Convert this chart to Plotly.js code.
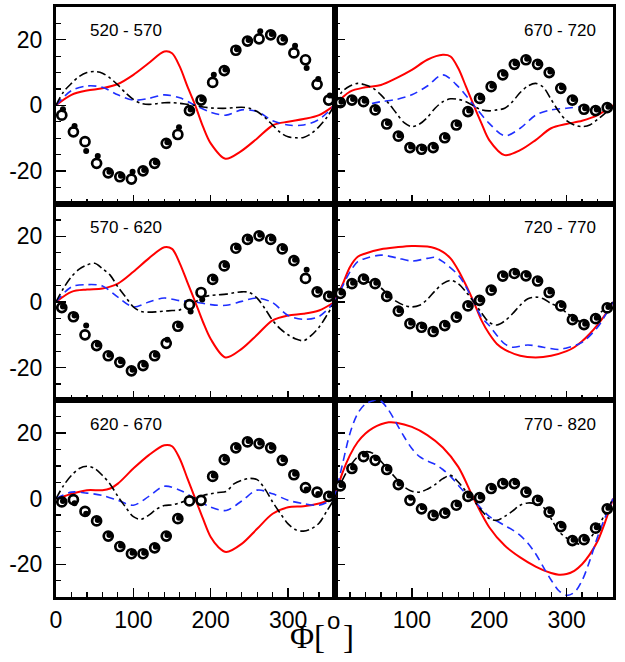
<!DOCTYPE html>
<html>
<head>
<meta charset="utf-8">
<script src="https://cdn.plot.ly/plotly-3.0.1.min.js"></script>
<style>html,body{margin:0;padding:0;background:#fff;}#chart{width:625px;height:662px;}</style>
</head>
<body>
<div id="chart"></div>
<script>
// ---- data ----
const panelLabels = ['520 - 570','670 - 720','570 - 620','720 - 770','620 - 670','770 - 820'];
const xTickVals = [0,100,200,300];
const xTickTextLeft = ['0','100','200','300'];
const xTickTextRight = [' ','100','200','300'];
const yTickVals = [-20,0,20];
const yTickText = ['-20','0','20'];
const titleParts = ['Φ[', 'o', ']'];

const phiPts  = [7.5,22.5,37.5,52.5,67.5,82.5,97.5,112.5,127.5,142.5,157.5,172.5,187.5,202.5,217.5,232.5,247.5,262.5,277.5,292.5,307.5,322.5,337.5,352.5];
const phiPtsF = [9,24,39,54,69,84,99,114,129,144,159,174,189,204,219,234,249,264,279,294,309,324,339,354];
const phi10 = [0,10,20,30,40,50,60,70,80,90,100,110,120,130,140,150,160,170,180,190,200,210,220,230,240,250,260,270,280,290,300,310,320,330,340,350,360];

// Panel 1: 520 - 570
const p1Open   = [-3.0,-8.1,-11.1,-17.7,-20.6,-21.8,-22.5,-20.0,-17.7,-11.6,-8.9,-1.6,1.6,7.0,10.6,16.8,19.6,20.3,21.5,20.0,16.0,13.9,6.4,1.6];
const p1Filled = [-1.2,-6.3,-13.9,-15.5,-20.3,-21.5,-20.3,-19.7,-17.4,-11.3,-6.7,-1.3,1.9,9.3,10.9,17.1,19.9,22.6,21.8,20.3,18.2,11.4,8.0,3.0];
const p1RedPhi = [0,20,40,60,80,100,120,140,150,160,170,180,190,200,219,238,260,281,300,320,340,360];
const p1Red    = [0,3.2,4.5,5.2,6.5,9.3,12.9,16.4,15.9,11.8,5.7,0,-6.5,-11.6,-16.3,-14.2,-10.1,-6.0,-5.0,-4.2,-3.0,0];
const p1BluePhi = [0,20,40,60,80,100,120,140,160,180,200,220,240,260,280,300,320,340,360];
const p1Blue    = [0,4.5,5.9,5.5,3.2,1.6,2.1,3.2,2.3,0,-2.1,-3.0,-1.4,-1.9,-4.7,-6.0,-6.0,-4.3,0];
const p1Black = [0,4.2,6.7,8.8,10.0,10.3,9.8,8.3,6.2,3.8,1.8,0.6,0.3,0.5,0.8,0.8,0.6,0.3,0,-0.5,-0.8,-0.9,-0.9,-0.7,-0.6,-0.9,-1.9,-3.7,-6.0,-8.3,-9.6,-9.9,-9.8,-8.6,-6.5,-3.7,0];

// Panel 2: 670 - 720
const p2Open   = [0.8,1.6,1.1,-1.4,-5.7,-9.4,-12.9,-13.4,-12.9,-9.9,-6.0,-1.9,2.1,5.7,9.3,12.5,13.9,12.5,10.0,5.2,1.6,-1.2,-1.6,-0.7];
const p2Filled = [1.1,1.9,1.4,-1.1,-5.4,-9.1,-12.6,-13.1,-12.6,-9.6,-5.7,-1.6,2.4,6.0,9.6,12.8,14.2,12.8,10.3,5.5,1.9,-0.9,-1.3,-0.4];
const p2RedPhi = [0,20,40,60,80,100,120,140,150,160,170,180,190,200,220,240,260,280,300,320,340,360];
const p2Red    = [0,4.2,5.5,6.2,8.3,10.8,13.9,15.4,14.9,11.3,5.7,0,-5.5,-10.6,-15.2,-13.7,-10.6,-7.0,-5.7,-4.7,-3.0,0];
const p2BluePhi = [0,20,40,60,80,100,120,140,160,180,200,220,240,260,280,300,320,340,360];
const p2Blue    = [0,1.6,0.4,1.1,1.8,3.2,5.9,9.3,5.7,0,-5.5,-9.3,-7.0,-3.0,-1.4,-0.9,-0.5,-1.2,0];
const p2Black = [0,4.2,5.9,6.7,6.2,5.2,3.2,0.6,-2.4,-5.3,-6.5,-5.7,-3.7,-0.9,1.1,2.0,1.8,1.1,-0.2,-1.4,-1.7,-1.4,-0.9,1.1,3.9,5.9,6.7,5.5,1.8,-1.9,-4.7,-6.0,-6.5,-6.0,-4.3,-2.4,0];

// Panel 3: 570 - 620
const p3Open   = [-1.7,-4.5,-10.0,-13.3,-16.4,-18.4,-21.0,-19.4,-16.4,-12.6,-7.4,-0.8,2.9,6.9,11.0,16.4,19.1,20.2,19.1,16.2,12.6,7.2,3.1,1.7];
const p3Filled = [-1.4,-4.1,-7.2,-13.0,-16.1,-18.1,-20.7,-19.1,-16.1,-11.5,-7.1,-2.9,0.8,7.2,11.3,16.7,19.4,20.5,19.4,16.5,12.9,9.8,3.4,2.0];
const p3RedPhi = [0,20,40,60,80,100,120,140,150,160,170,180,190,200,219,240,260,280,300,320,340,360];
const p3Red    = [0,3.1,3.8,4.1,5.6,9.2,13.3,16.7,16.2,11.8,5.9,0,-6.1,-11.3,-16.9,-14.3,-10.0,-5.6,-4.1,-3.6,-2.6,0];
const p3BluePhi = [0,20,40,60,80,100,120,140,160,180,200,220,240,260,280,300,320,340,360];
const p3Blue    = [0,4.6,5.3,4.9,1.5,-1.5,0,1.2,0.4,0,-0.8,-1.0,0.2,1.2,-0.2,-4.1,-5.3,-4.4,0];
const p3Black = [0,4.3,7.7,10.0,11.3,11.8,10.2,8.2,4.6,1.5,-1.5,-2.9,-3.1,-3.0,-2.8,-2.6,-2.4,-1.0,0,1.5,2.0,2.2,2.4,2.8,3.1,2.9,1.2,-2.0,-5.6,-8.2,-10.0,-11.3,-11.8,-10.2,-7.7,-4.1,0];

// Panel 4: 720 - 770
const p4Open   = [2.6,5.6,7.0,5.6,1.7,-2.8,-6.6,-7.7,-9.0,-7.2,-4.6,-1.2,0.5,3.6,7.9,8.7,8.0,6.4,2.9,-1.2,-5.4,-6.9,-5.1,-1.8];
const p4Filled = [2.9,5.9,7.3,5.9,2.0,-2.5,-6.3,-7.4,-8.7,-6.9,-4.3,-0.9,0.8,3.9,8.2,9.0,8.3,6.7,3.2,-0.9,-5.1,-6.6,-4.8,-1.5];
const p4RedPhi = [0,10,20,30,40,60,80,100,120,130,140,150,160,170,180,190,200,210,220,240,260,280,300,310,320,330,340,350,360];
const p4Red    = [0,5.1,10.7,13.8,14.8,16.1,16.7,17.1,16.9,16.4,15.3,13.3,9.7,5.1,0,-5.6,-9.7,-12.8,-14.5,-16.4,-16.9,-16.4,-15.0,-13.8,-12.0,-9.7,-7.0,-3.8,0];
const p4BluePhi = [0,10,20,30,40,60,80,100,120,130,140,160,170,180,190,200,210,220,230,250,270,290,300,320,340,350,360];
const p4Blue    = [0,4.6,9.2,12.3,13.3,14.3,13.5,12.5,13.3,13.6,12.3,8.2,4.6,0,-4.6,-7.2,-10.2,-12.8,-13.8,-13.1,-13.8,-14.5,-14.0,-12.3,-7.7,-4.1,0];
const p4Black = [0,2.9,5.1,6.3,6.3,5.6,4.3,2.0,0.2,-1.0,-1.5,-1.0,0.8,3.4,5.6,6.6,5.6,3.1,0,-3.3,-6.2,-7.0,-5.8,-3.6,-1.0,1.0,1.5,1.0,-0.5,-1.5,-3.3,-5.1,-6.1,-5.6,-3.9,-2.0,0];

// Panel 5: 620 - 670
const p5Open   = [-1.0,-0.3,-3.9,-6.8,-11.4,-14.6,-16.8,-16.8,-15.0,-11.4,-6.1,-0.7,-0.5,6.8,11.9,15.5,17.3,16.8,15.5,11.7,7.3,3.4,2.0,0.7];
const p5Filled = [-0.7,-1.4,-4.6,-6.5,-11.1,-14.3,-16.5,-16.5,-14.7,-11.1,-5.8,null,null,7.1,12.2,15.8,17.6,17.1,15.8,12.0,7.6,2.8,1.4,1.0];
const p5RedPhi = [0,10,20,40,60,70,80,100,120,140,150,160,170,180,190,200,210,220,240,260,280,300,320,340,350,360];
const p5Red    = [0,0.7,1.5,2.6,2.6,3.1,4.6,9.2,13.3,16.3,16.0,12.2,6.1,0,-6.1,-11.7,-14.8,-16.3,-13.8,-9.2,-4.6,-2.6,-2.3,-1.5,-0.7,0];
const p5BluePhi = [0,20,40,60,80,100,120,140,160,180,200,220,240,260,280,300,320,340,360];
const p5Blue    = [0,2.0,1.7,1.0,-0.5,-2.0,0.7,3.8,2.6,0,-2.6,-3.6,-0.7,2.6,1.5,-0.5,-1.5,-2.0,0];
const p5Black = [0,4.1,7.1,9.2,9.9,9.2,7.1,4.4,0.7,-2.6,-5.5,-6.3,-5.0,-3.2,-2.1,-1.9,-1.3,-0.5,0.3,1.0,1.5,1.9,2.2,4.5,5.6,6.2,5.8,3.0,-1.0,-4.5,-7.7,-9.5,-9.9,-9.2,-7.5,-3.8,0];

// Panel 6: 770 - 820
const p6Open   = [3.9,9.2,12.8,11.7,8.9,4.3,-0.5,-3.1,-5.1,-4.4,-2.0,0.7,0.3,3.1,4.6,4.6,2.0,-0.5,-4.1,-8.5,-12.8,-12.5,-9.0,-3.1];
const p6Filled = [4.2,9.5,13.5,12.3,9.2,4.6,0.3,-2.6,-4.8,-4.1,-1.7,1.0,0.6,3.4,4.9,5.0,2.3,-0.2,-3.8,-8.2,-12.5,-12.2,-8.7,-2.8];
const p6RedPhi = [0,10,20,30,40,50,60,70,80,100,120,140,160,180,200,220,240,260,280,290,300,310,320,330,340,350,360];
const p6Red    = [0,7.7,13.3,17.3,19.9,21.6,22.7,23.3,23.2,21.9,19.4,15.6,9.7,0,-8.7,-14.3,-17.9,-20.7,-22.7,-23.2,-23.0,-22.0,-20.0,-17.0,-13.0,-7.0,0];
const p6BluePhi = [0,10,20,30,40,50,55,60,70,80,90,100,110,120,130,140,150,160,170,180,190,200,210,220,230,240,250,260,270,280,290,300,310,320,330,340,350,360];
const p6Blue    = [0,10.2,19.9,26.0,28.9,29.9,30.2,29.8,27.0,23.0,18.9,15.3,12.8,11.5,10.5,8.9,6.8,4.1,1.5,-0.5,-3.1,-5.4,-6.8,-8.2,-9.5,-11.2,-13.6,-16.8,-20.9,-24.8,-28.1,-29.5,-28.6,-25.0,-18.9,-11.7,-5.6,0];
const p6Black = [0,5.6,9.9,12.8,14.3,13.8,11.4,8.7,6.1,3.6,2.3,2.0,2.9,4.3,6.1,7.1,5.1,2.2,-0.5,-3.6,-6.1,-6.6,-5.4,-3.8,-2.0,-1.3,-1.5,-2.6,-6.1,-10.0,-12.0,-13.3,-14.0,-12.2,-8.7,-4.6,0];

// ---- build ----
const panels = [
  {open:p1Open, filled:p1Filled, redPhi:p1RedPhi, red:p1Red, bluePhi:p1BluePhi, blue:p1Blue, black:p1Black},
  {open:p2Open, filled:p2Filled, redPhi:p2RedPhi, red:p2Red, bluePhi:p2BluePhi, blue:p2Blue, black:p2Black},
  {open:p3Open, filled:p3Filled, redPhi:p3RedPhi, red:p3Red, bluePhi:p3BluePhi, blue:p3Blue, black:p3Black},
  {open:p4Open, filled:p4Filled, redPhi:p4RedPhi, red:p4Red, bluePhi:p4BluePhi, blue:p4Blue, black:p4Black},
  {open:p5Open, filled:p5Filled, redPhi:p5RedPhi, red:p5Red, bluePhi:p5BluePhi, blue:p5Blue, black:p5Black},
  {open:p6Open, filled:p6Filled, redPhi:p6RedPhi, red:p6Red, bluePhi:p6BluePhi, blue:p6Blue, black:p6Black}
];

const traces = [];
const layout = {
  width:625, height:662,
  margin:{l:56, r:12, t:7, b:65, pad:0},
  paper_bgcolor:'#fff', plot_bgcolor:'#fff',
  showlegend:false,
  font:{family:'Liberation Sans, Arial, sans-serif', color:'#000'},
  annotations:[]
};
const rows = [[0.6667,1],[0.3333,0.6667],[0,0.3333]];
const cols = [[0,0.5],[0.5,1]];

panels.forEach((p,i)=>{
  const n = i+1;
  const xa = 'x'+(n===1?'':n), ya = 'y'+(n===1?'':n);
  const xk = 'xaxis'+(n===1?'':n), yk = 'yaxis'+(n===1?'':n);
  const r = Math.floor(i/2), c = i%2;
  const shape = {shape:'spline', smoothing:0.9};
  traces.push({x:p.redPhi, y:p.red, xaxis:xa, yaxis:ya, mode:'lines', line:Object.assign({color:'#ff0000', width:2}, shape), hoverinfo:'skip'});
  traces.push({x:p.bluePhi, y:p.blue, xaxis:xa, yaxis:ya, mode:'lines', line:Object.assign({color:'#1f2fff', width:1.6, dash:'8px,5px'}, shape), hoverinfo:'skip'});
  traces.push({x:phi10, y:p.black, xaxis:xa, yaxis:ya, mode:'lines', line:Object.assign({color:'#000', width:1.6, dash:'9px,3.5px,2.8px,3.5px'}, shape), hoverinfo:'skip'});
  traces.push({x:phiPts, y:p.open, xaxis:xa, yaxis:ya, mode:'markers', marker:{symbol:'circle', size:9, color:'#fff', line:{color:'#000', width:2.7}}, hoverinfo:'skip'});
  traces.push({x:phiPtsF, y:p.filled, xaxis:xa, yaxis:ya, mode:'markers', marker:{symbol:'circle', size:6, color:'#000', line:{width:0}}, hoverinfo:'skip'});

  layout[xk] = {
    domain:cols[c], anchor:ya, range:[0,360],
    showline:true, mirror:true, linewidth:3, linecolor:'#000',
    showgrid:false, zeroline:false,
    ticks:'inside', ticklen:9, tickwidth:1.4, tickcolor:'#000',
    tickmode:'array', tickvals:xTickVals, ticktext:(c===0?xTickTextLeft:xTickTextRight),
    showticklabels:(r===2), tickfont:{size:23, color:'#000'}, ticklabelstandoff:0,
    minor:{dtick:20, tick0:0, ticks:'inside', ticklen:5, tickwidth:1.2, tickcolor:'#000', showgrid:false}
  };
  layout[yk] = {
    domain:rows[r], anchor:xa, range:[-30,30],
    showline:true, mirror:true, linewidth:3, linecolor:'#000',
    showgrid:false, zeroline:false,
    ticks:'inside', ticklen:10, tickwidth:1.4, tickcolor:'#000',
    tickmode:'array', tickvals:yTickVals, ticktext:yTickText,
    showticklabels:(c===0), tickfont:{size:23, color:'#000'}, ticklabelstandoff:6,
    minor:{dtick:5, tick0:0, ticks:'inside', ticklen:5, tickwidth:1.2, tickcolor:'#000', showgrid:false}
  };
  layout.annotations.push({
    text:panelLabels[i], xref:xa+' domain', yref:ya+' domain',
    x:(c===0?0.115:0.946), xanchor:(c===0?'left':'right'),
    y:0.878, yanchor:'middle', showarrow:false,
    font:{size:17, color:'#000', family:'Liberation Sans, Arial, sans-serif'}
  });
});

// x-axis title Φ[°] built from three pieces so the raised "o" sits like the original
layout.annotations.push({
  text:titleParts[0], xref:'paper', yref:'paper', x:0.4865, y:-0.067, xanchor:'right', yanchor:'middle',
  showarrow:false, font:{size:33, color:'#000', family:'Liberation Serif, Times New Roman, serif'}
});
layout.annotations.push({
  text:titleParts[1], xref:'paper', yref:'paper', x:0.4985, y:-0.039, xanchor:'center', yanchor:'middle',
  showarrow:false, font:{size:24, color:'#000', family:'Liberation Sans, Arial, sans-serif'}
});
layout.annotations.push({
  text:titleParts[2], xref:'paper', yref:'paper', x:0.5115, y:-0.067, xanchor:'left', yanchor:'middle',
  showarrow:false, font:{size:33, color:'#000', family:'Liberation Serif, Times New Roman, serif'}
});

Plotly.newPlot('chart', traces, layout, {staticPlot:true, displayModeBar:false});
</script>
</body>
</html>
